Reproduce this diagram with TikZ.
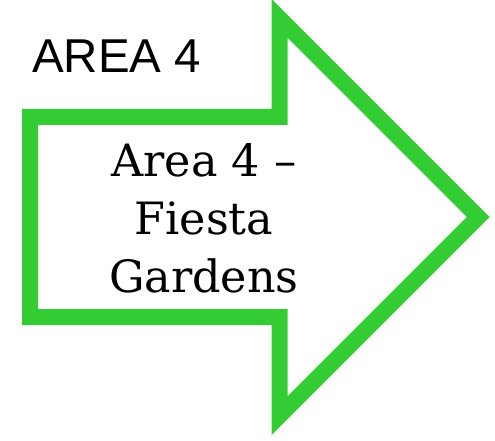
\documentclass[tikz,border=0pt]{standalone}
\usepackage{fontspec}
\setmainfont{DejaVu Serif}
\newfontfamily\titlefont{Liberation Sans}
\definecolor{arrowgreen}{RGB}{51,204,51}
\begin{document}
\begin{tikzpicture}[x=1pt,y=-1pt,
  arrowline/.style={draw=arrowgreen,line width=16pt,miter limit=10,line join=miter},
  titletext/.style={anchor=base west,inner sep=0pt,font=\titlefont\fontsize{47.5}{50}\selectfont},
  bodytext/.style={anchor=base,inner sep=0pt,font=\fontsize{44.5}{56}\selectfont}]
\useasboundingbox (0,0) rectangle (495,441);
\draw[arrowline] (30,117) -- (279.5,117) -- (279.5,18.2) -- (478.3,217) -- (279.5,415.8) -- (279.5,317) -- (30,317) -- cycle;
\node[titletext] (title) at (32,72.5) {AREA 4};
\node[bodytext] (l1) at (204,176) {Area 4 –};
\node[bodytext] (l2) at (204,234) {Fiesta};
\node[bodytext] (l3) at (204,292) {Gardens};
\end{tikzpicture}
\end{document}
